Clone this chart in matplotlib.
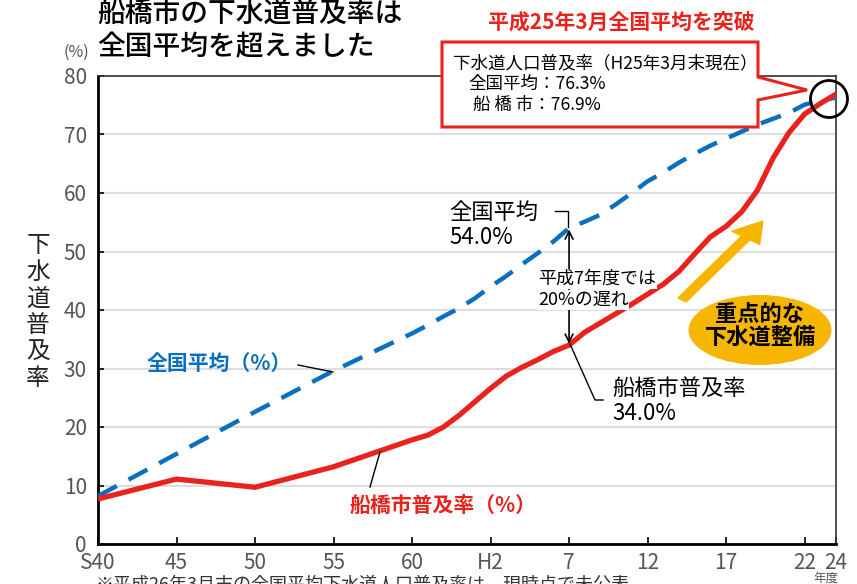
import matplotlib
matplotlib.use('agg')
import matplotlib.pyplot as plt
from matplotlib.patches import Ellipse, Polygon, FancyArrow
import numpy as np

plt.rcParams['font.family'] = ['Noto Sans CJK JP', 'DejaVu Sans']

# 全国平均 (national average, %)
nat_years = [1965, 1970, 1975, 1980, 1985, 1986, 1987, 1988, 1989, 1990, 1991, 1992, 1993, 1994,
             1995, 1996, 1997, 1998, 1999, 2000, 2001, 2002, 2003, 2004, 2005, 2006, 2007,
             2008, 2009, 2010, 2011, 2012]
nat_vals = [8.2, 15.4, 22.6, 29.6, 36.0, 37.4, 38.9, 40.3, 42.0, 44.0, 45.8, 47.8, 49.7, 51.7,
            54.0, 55.1, 56.3, 58.1, 60.0, 62.0, 63.5, 65.2, 66.7, 68.1, 69.3, 70.5, 71.7,
            72.7, 73.7, 75.1, 75.8, 76.3]

# 船橋市 (Funabashi, %)
fun_years = [1965, 1970, 1975, 1980, 1985, 1986, 1987, 1988, 1989, 1990, 1991, 1992, 1993, 1994,
             1995, 1996, 1997, 1998, 1999, 2000, 2001, 2002, 2003, 2004, 2005, 2006, 2007,
             2008, 2009, 2010, 2011, 2012]
fun_vals = [7.7, 11.1, 9.7, 13.2, 17.8, 18.6, 20.0, 22.0, 24.3, 26.6, 28.7, 30.2, 31.5, 32.9,
            34.0, 36.2, 37.8, 39.4, 41.0, 42.7, 44.4, 46.6, 49.6, 52.5, 54.3, 56.8, 60.5,
            66.0, 70.3, 73.5, 75.3, 76.9]

xticks = [1965, 1970, 1975, 1980, 1985, 1990, 1995, 2000, 2005, 2010, 2012]
xlabels = ['S40', '45', '50', '55', '60', 'H2', '7', '12', '17', '22', '24']

W, H = 857, 584
red = '#e8231d'
blue = '#0b6fbf'
yellow = '#f6b600'
grey = '#555555'

def px(x, y):
    return (x / W, 1 - y / H)

fig = plt.figure(figsize=(W / 100, H / 100), dpi=100)
ax = fig.add_axes([98 / W, 1 - 544 / H, (836 - 98) / W, (544 - 76) / H])

ax.plot(nat_years, nat_vals, color=blue, lw=3.2, dashes=(4.8, 3.0), zorder=3)
ax.plot(fun_years, fun_vals, color=red, lw=3.8, solid_capstyle='butt', zorder=4)

ax.set_xlim(1965, 2012)
ax.set_ylim(0, 80)
ax.set_yticks(np.arange(0, 81, 10))
ax.set_xticks(xticks)
ax.set_xticklabels(xlabels)
ax.tick_params(direction='in', length=5, width=1.2, labelsize=15, labelcolor=grey, pad=6)
ax.tick_params(axis='y', length=4, pad=8)
ax.grid(axis='y', color='#dddddd', lw=1.5, zorder=0)
for s in ['left', 'bottom']:
    ax.spines[s].set_linewidth(2.0)
for s in ['top', 'right']:
    ax.spines[s].set_linewidth(1.2)
    ax.spines[s].set_color('#333333')

# title & header texts
fig.text(*px(97, 14), '船橋市の下水道普及率は', fontsize=20, weight='medium', va='center', ha='left')
fig.text(*px(97, 47), '全国平均を超えました', fontsize=20, weight='medium', va='center', ha='left')
fig.text(*px(89, 52), '(%)', fontsize=11.5, color=grey, va='center', ha='right')
fig.text(*px(621, 22), '平成25年3月全国平均を突破', fontsize=15, weight='bold', color=red,
         va='center', ha='center')

# y label, stacked vertically
for i, ch in enumerate('下水道普及率'):
    fig.text(*px(38, 246 + i * 26.5), ch, fontsize=17, va='center', ha='center', color='#222222')

# callout box
box = Polygon([px(442, 42), px(758, 42), px(758, 77), px(807, 90), px(758, 100),
               px(758, 127), px(442, 127)], closed=True, transform=fig.transFigure,
              facecolor='white', edgecolor=red, lw=2.2, zorder=10)
fig.patches.append(box)
fig.text(*px(453, 63), '下水道人口普及率（H25年3月末現在）', fontsize=12.6, va='center', zorder=11)
fig.text(*px(468, 84), '全国平均：76.3%', fontsize=12.6, va='center', zorder=11)
fig.text(*px(473, 105), '船 橋 市：76.9%', fontsize=12.6, va='center', zorder=11)
fig.patches.append(Ellipse(px(829, 99), 37 / W, 37 / H, transform=fig.transFigure,
                           facecolor='none', edgecolor='black', lw=2, zorder=12))

# series labels
fig.text(*px(147, 363), '全国平均（%）', fontsize=15, weight='bold', color=blue, va='center')
fig.lines.append(plt.Line2D([298 / W, 333 / W], [1 - 365 / H, 1 - 372 / H],
                            transform=fig.transFigure, color='black', lw=1))
fig.text(*px(350, 505), '船橋市普及率（%）', fontsize=15, weight='bold', color=red, va='center')
fig.lines.append(plt.Line2D([370 / W, 380 / W], [1 - 487 / H, 1 - 452 / H],
                            transform=fig.transFigure, color='black', lw=1))

# H7 comparison
fig.text(*px(449, 212), '全国平均', fontsize=16, va='center')
fig.text(*px(449, 238), '54.0%', fontsize=16, va='center')
fig.lines.append(plt.Line2D([555 / W, 568 / W, 568 / W], [1 - 211 / H, 1 - 211 / H, 1 - 227 / H],
                            transform=fig.transFigure, color='black', lw=1))
ax.annotate('', xy=(1995, 54.0), xytext=(1995, 34.0),
            arrowprops=dict(arrowstyle='<->', color='black', lw=1.2, shrinkA=1, shrinkB=1,
                            mutation_scale=14), zorder=5)
fig.text(*px(538, 279), '平成7年度では', fontsize=13, va='center',
         bbox=dict(facecolor='white', edgecolor='none', pad=0.5))
fig.text(*px(538, 300), '20%の遅れ', fontsize=13, va='center',
         bbox=dict(facecolor='white', edgecolor='none', pad=0.5))
fig.text(*px(612, 388), '船橋市普及率', fontsize=16, va='center')
fig.text(*px(612, 414), '34.0%', fontsize=16, va='center')
fig.lines.append(plt.Line2D([570 / W, 595 / W, 603 / W], [1 - 344 / H, 1 - 400 / H, 1 - 400 / H],
                            transform=fig.transFigure, color='black', lw=1))

# yellow arrow and ellipse
x0, y0 = px(682, 300)
x1, y1 = px(763, 221)
fig.patches.append(FancyArrow(x0, y0, (x1 - x0) * 0.999, (y1 - y0) * 0.999,
                              width=10 / W, head_width=34 / W, head_length=30 / W,
                              length_includes_head=True, transform=fig.transFigure,
                              color=yellow, zorder=6))
fig.patches.append(Ellipse(px(760, 330), 143 / W, 70 / H, transform=fig.transFigure,
                           facecolor=yellow, edgecolor='none', zorder=6))
fig.text(*px(760, 314), '重点的な', fontsize=16, weight='bold', ha='center', va='center', zorder=7)
fig.text(*px(760, 337), '下水道整備', fontsize=16, weight='bold', ha='center', va='center', zorder=7)

# footnotes
fig.text(*px(826, 578), '年度', fontsize=9, color=grey, ha='center', va='center')
fig.text(*px(95, 576), '※平成26年3月末の全国平均下水道人口普及率は、現時点で未公表', fontsize=13,
         color='#333333', va='top')

fig.savefig('out.png', dpi=100)
